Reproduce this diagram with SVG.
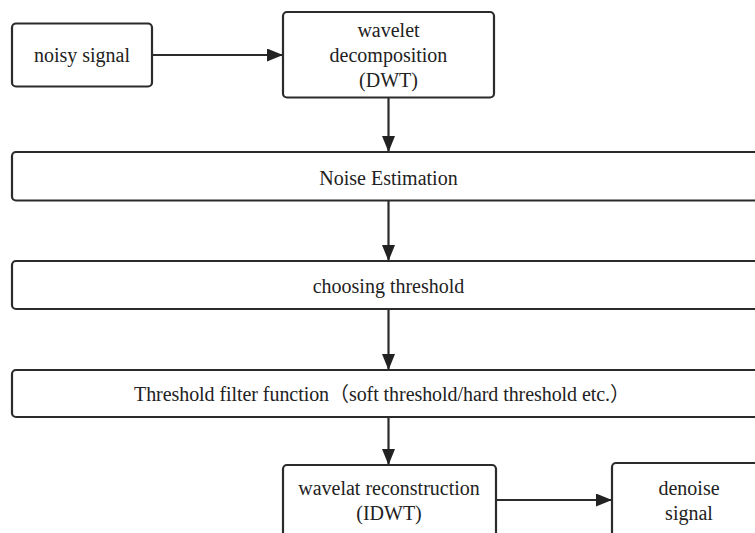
<svg xmlns="http://www.w3.org/2000/svg" width="755" height="533" viewBox="0 0 755 533">
<style>
.box{fill:#fff;stroke:#2b2b2b;stroke-width:2.2}
.t{font-family:"Liberation Serif","Times New Roman","DejaVu Serif",serif;font-size:20px;fill:#222;text-anchor:middle}
.cjk{font-family:"Noto Sans CJK SC",sans-serif}
.c{stroke:#2b2b2b;stroke-width:2.2;fill:none;marker-end:url(#ah)}
</style>
<defs>
<marker id="ah" viewBox="0 0 16 13" refX="16" refY="6.5" markerWidth="16" markerHeight="13" markerUnits="userSpaceOnUse" orient="auto">
<path d="M0,0 L16,6.5 L0,13 Z" fill="#222"/>
</marker>
</defs>
<rect width="755" height="533" fill="#fff"/>
<g id="connectors">
<line class="c" x1="152" y1="55" x2="283" y2="55"/>
<line class="c" x1="388.5" y1="98" x2="388.5" y2="152"/>
<line class="c" x1="388.5" y1="201" x2="388.5" y2="261"/>
<line class="c" x1="388.5" y1="309" x2="388.5" y2="370"/>
<line class="c" x1="388.5" y1="418" x2="388.5" y2="465"/>
<line class="c" x1="496" y1="500" x2="612" y2="500"/>
</g>
<g id="noisy">
<rect class="box" x="12" y="23.5" width="140" height="63" rx="4"/>
<text class="t" x="82" y="62">noisy signal</text>
</g>
<g id="dwt">
<rect class="box" x="283" y="12" width="211" height="85.5" rx="4"/>
<text class="t" x="388.5" y="37">wavelet</text>
<text class="t" x="388.5" y="62">decomposition</text>
<text class="t" x="388.5" y="87">(DWT)</text>
</g>
<g id="noise">
<rect class="box" x="12" y="152" width="760" height="48.5" rx="4"/>
<text class="t" x="388.5" y="185">Noise Estimation</text>
</g>
<g id="choose">
<rect class="box" x="12" y="261" width="760" height="48" rx="4"/>
<text class="t" x="388.5" y="293">choosing threshold</text>
</g>
<g id="filter">
<rect class="box" x="12" y="370" width="760" height="47" rx="4"/>
<text class="t" x="382" y="401" textLength="496" lengthAdjust="spacing">Threshold filter function<tspan class="cjk">（</tspan>soft threshold/hard threshold etc.<tspan class="cjk">）</tspan></text>
</g>
<g id="idwt">
<rect class="box" x="283" y="465" width="213" height="80" rx="4"/>
<text class="t" x="389" y="495">wavelat reconstruction</text>
<text class="t" x="389" y="520">(IDWT)</text>
</g>
<g id="denoise">
<rect class="box" x="612" y="463" width="160" height="80" rx="4"/>
<text class="t" x="689" y="495">denoise</text>
<text class="t" x="689" y="520">signal</text>
</g>
</svg>
